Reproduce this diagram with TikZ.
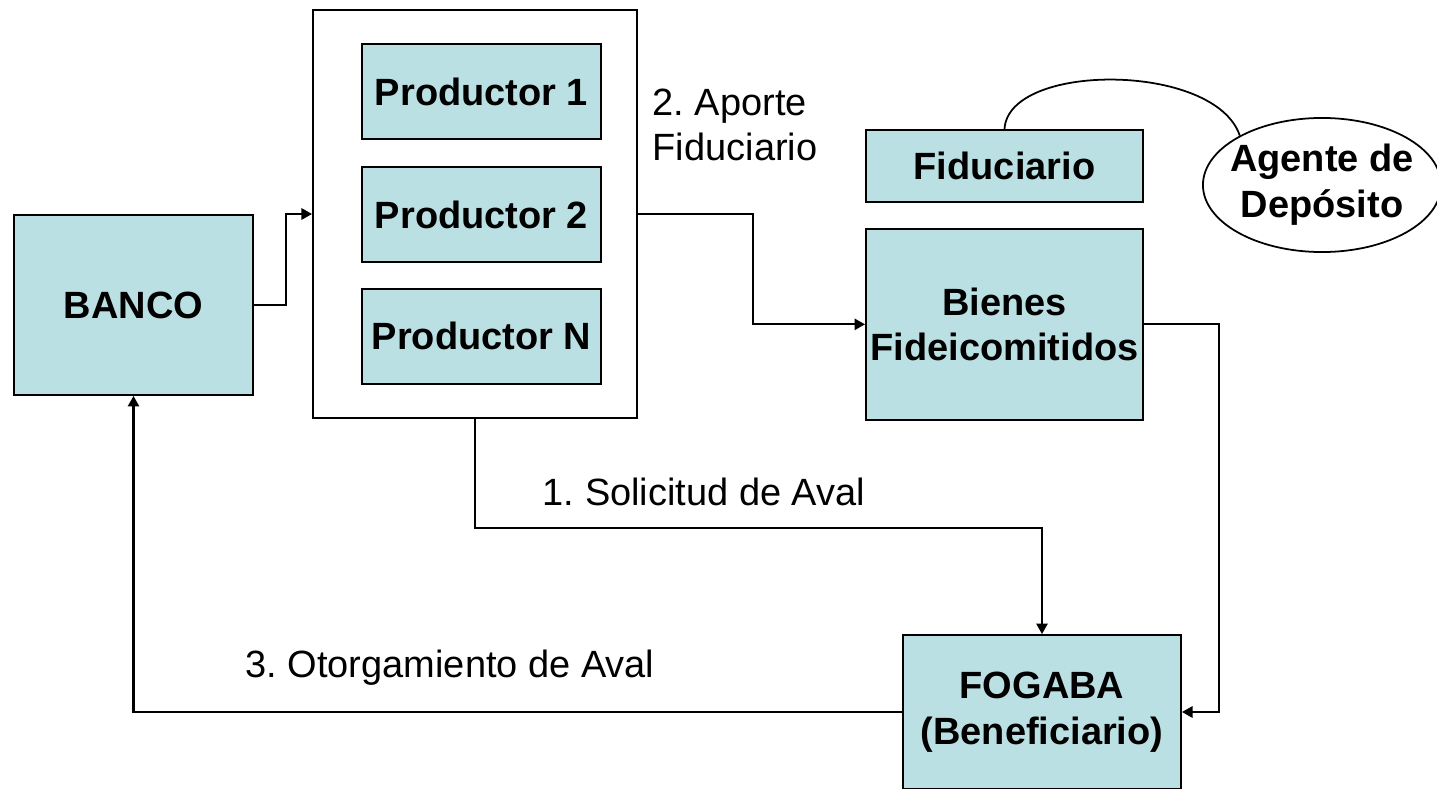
\documentclass[tikz,border=0pt]{standalone}
\usepackage{fontspec}
\setmainfont{Liberation Sans}
\usepackage{tikz}
\usetikzlibrary{positioning,arrows.meta,shapes.geometric}
\frenchspacing

\definecolor{boxfill}{RGB}{187,224,227}

\begin{document}
\begin{tikzpicture}[x=0.01cm, y=-0.01cm,
    every node/.style = {font=\fontsize{10.8pt}{13pt}\selectfont},
    caja/.style = {draw, line width=0.5pt, fill=boxfill, align=center,
                   font=\fontsize{10.8pt}{13pt}\selectfont\bfseries, inner sep=0pt},
    prod/.style = {caja, minimum width=2.39cm, minimum height=0.95cm},
    flecha/.style = {line width=0.6pt, -{Triangle[length=3pt,width=3.2pt]}}]
  \useasboundingbox (0,0) rectangle (1437,788);

  % boxes
  \node[caja, minimum width=2.39cm, minimum height=1.8cm] (banco) at (133.5,305) {BANCO};
  \node[draw, line width=0.5pt, minimum width=3.24cm, minimum height=4.08cm] (grupo) at (475,214) {};
  \node[prod] (p2) at (481.5,214.5) {Productor 2};
  \node[prod, above=0.26cm of p2] (p1) {Productor 1};
  \node[prod, below=0.25cm of p2] (pn) {Productor N};

  \node[caja, minimum width=2.77cm, minimum height=0.72cm] (fid) at (1004.5,166) {Fiduciario};
  \node[caja, minimum width=2.77cm, minimum height=1.91cm, below=0.25cm of fid] (bienes) {Bienes\\Fideicomitidos};
  \node[draw, ellipse, line width=0.5pt, fill=white, align=center,
        inner xsep=-2.5pt, inner ysep=0pt,
        font=\fontsize{10.8pt}{13pt}\selectfont\bfseries,
        minimum width=2.38cm, minimum height=1.34cm] (agente) at (1322,185) {Agente de\\Dep\'osito};
  \node[caja, minimum width=2.78cm, minimum height=1.54cm] (fogaba) at (1042,712) {FOGABA\\(Beneficiario)};

  % labels
  \node[anchor=west, align=left, inner sep=0pt] (aporte) at (652,125) {2. Aporte\\Fiduciario};
  \node[inner sep=0pt] (solicitud) at (704,492) {1. Solicitud de Aval};
  \node[inner sep=0pt] (otorga) at (450,668) {3. Otorgamiento de Aval};

  % connectors
  \draw[line width=0.5pt] (fid.north) .. controls (1008,62) and (1215,62) .. (agente.149);
  \draw[flecha] (banco.east) -- ++(32,0) |- (grupo.west);
  \draw[flecha] (grupo.east) -- ++(115,0) |- (bienes.west);
  \draw[flecha] (grupo.south) -- ++(0,109) -| (fogaba.north);
  \draw[flecha] (bienes.east) -- ++(75,0) |- (fogaba.east);
  \draw[flecha] (fogaba.west) -| (banco.south);
\end{tikzpicture}
\end{document}
